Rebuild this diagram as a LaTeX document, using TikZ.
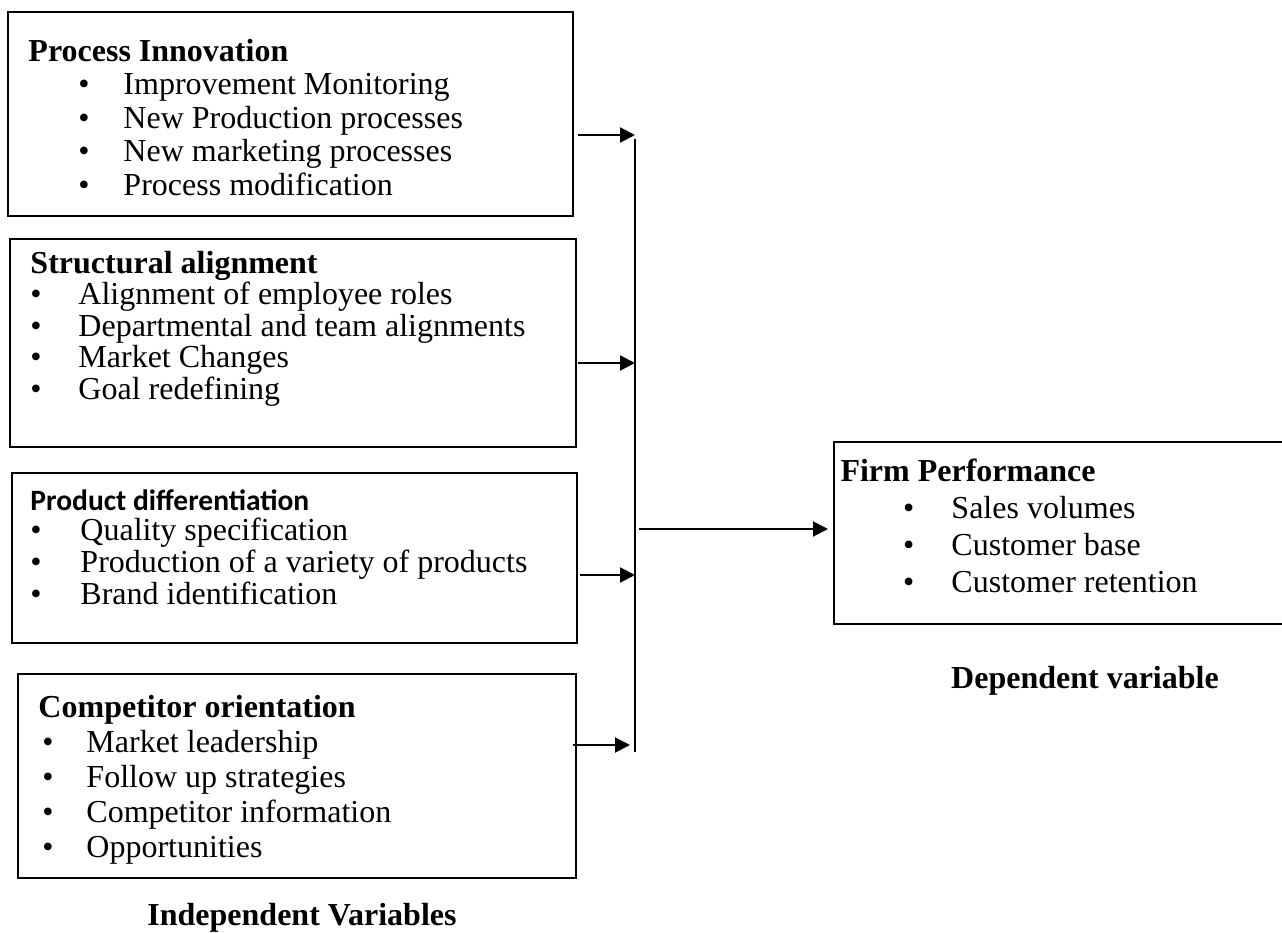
\documentclass[tikz,border=0pt]{standalone}
\usepackage{fontspec}
\setmainfont{Liberation Serif}
\newfontfamily\calibri{Carlito}
\usetikzlibrary{arrows.meta,calc}
\newcommand\bitem[3]{\hspace*{#1}\makebox[#2][l]{\textbullet}#3}
\begin{document}
\begin{tikzpicture}[x=0.4pt,y=-0.4pt]
\tikzset{
  box/.style={draw, line width=0.8pt, inner sep=0, anchor=north west},
  txt/.style={anchor=base west, inner sep=0},
  arr/.style={line width=0.8pt, -{Triangle[length=6pt,width=6pt]}},
  busline/.style={line width=0.8pt},
  lbl/.style={anchor=base, inner sep=0, font=\fontsize{12.8}{14}\selectfont\bfseries}
}
\useasboundingbox (0,0) rectangle (1282,933);
\fill[white] (0,0) rectangle (1282,933);

% boxes
\node[box, minimum width=226pt, minimum height=81.6pt] (b1) at (7,11) {};
\node[box, minimum width=226.4pt, minimum height=83.2pt] (b2) at (9,238) {};
\node[box, minimum width=226pt, minimum height=68pt] (b3) at (11,472) {};
\node[box, minimum width=223.2pt, minimum height=81.6pt] (b4) at (17,673) {};
\node[box, minimum width=190pt, minimum height=72.8pt] (firm) at (833,441) {};

% texts
\node[txt, font=\fontsize{12.8}{13.4}\selectfont] (t1) at (28,61) {\begin{tabular}[t]{@{}l@{}}
  \textbf{Process Innovation}\\
  \bitem{20pt}{18pt}{Improvement Monitoring}\\
  \bitem{20pt}{18pt}{New Production processes}\\
  \bitem{20pt}{18pt}{New marketing processes}\\
  \bitem{20pt}{18pt}{Process modification}
\end{tabular}};
\node[txt, font=\fontsize{12.8}{12.4}\selectfont] (t2) at (30,273) {\begin{tabular}[t]{@{}l@{}}
  \textbf{Structural alignment}\\
  \bitem{0pt}{19.2pt}{Alignment of employee roles}\\
  \bitem{0pt}{19.2pt}{Departmental and team alignments}\\
  \bitem{0pt}{19.2pt}{Market Changes}\\
  \bitem{0pt}{19.2pt}{Goal redefining}
\end{tabular}};
\node[txt, font=\fontsize{12.8}{12.6}\selectfont] (t3) at (30,510) {\begin{tabular}[t]{@{}l@{}}
  {\calibri\bfseries\fontsize{11.8}{12.6}\selectfont Product differentiation}\\[-0.6pt]
  \bitem{0pt}{20pt}{Quality specification}\\
  \bitem{0pt}{20pt}{Production of a variety of products}\\
  \bitem{0pt}{20pt}{Brand identification}
\end{tabular}};
\node[txt, font=\fontsize{12.8}{14}\selectfont] (t4) at (38,717) {\begin{tabular}[t]{@{}l@{}}
  \textbf{Competitor orientation}\\
  \bitem{1.6pt}{17.6pt}{Market leadership}\\
  \bitem{1.6pt}{17.6pt}{Follow up strategies}\\
  \bitem{1.6pt}{17.6pt}{Competitor information}\\
  \bitem{1.6pt}{17.6pt}{Opportunities}
\end{tabular}};
\node[txt, font=\fontsize{12.8}{14.8}\selectfont] (t5) at (840,481) {\begin{tabular}[t]{@{}l@{}}
  \textbf{Firm Performance}\\
  \bitem{25pt}{19.4pt}{Sales volumes}\\
  \bitem{25pt}{19.4pt}{Customer base}\\
  \bitem{25pt}{19.4pt}{Customer retention}
\end{tabular}};

\node[lbl] (indep) at (302,925) {Independent Variables};
\node[lbl] (dep) at (1085,688) {Dependent variable};

% bus
\coordinate (bustop) at (635,139);
\coordinate (busbot) at (635,752);
\draw[busline] (bustop) -- (busbot);

% arrows into bus
\draw[arr] ($(b1.north east)+(4,124)$) coordinate (a1) -- (a1 -| bustop);
\draw[arr] ($(b2.north east)+(1,125)$) coordinate (a2) -- (a2 -| bustop);
\draw[arr] ($(b3.north east)+(2,103)$) coordinate (a3) -- (a3 -| bustop);
\draw[arr] ($(b4.north east)+(-4,72)$) coordinate (a4) -- ($(a4 -| bustop)+(-5,0)$);

% arrow to firm
\draw[arr] ($(bustop|-firm.west)+(4,-4)$) coordinate (a5) -- ($(a5 -| firm.west)+(-5,0)$);
\end{tikzpicture}
\end{document}
